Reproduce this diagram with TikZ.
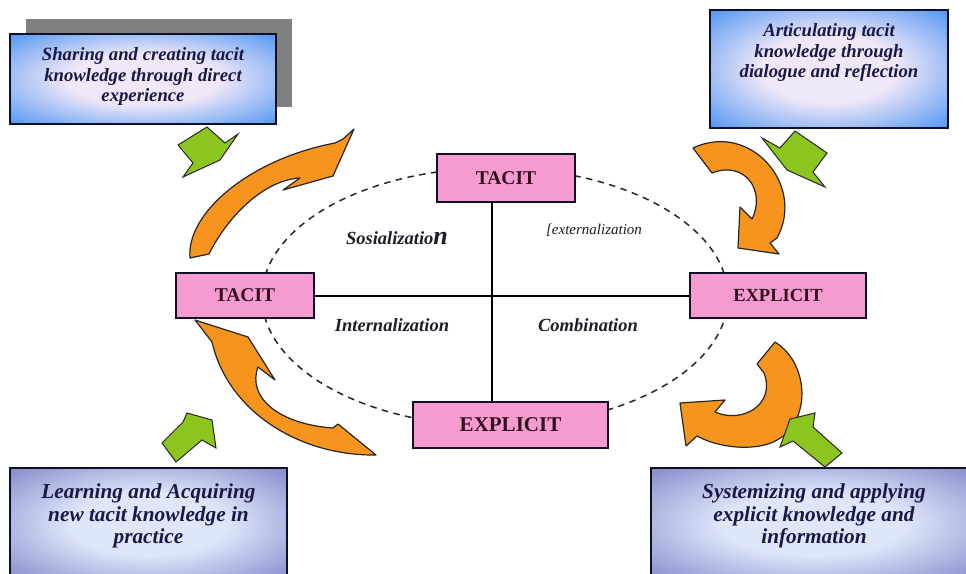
\documentclass[tikz,border=0pt]{standalone}
\usepackage{fontspec}
\setmainfont{Liberation Serif}
\definecolor{bluee}{RGB}{78,148,242}
\definecolor{bluec}{RGB}{240,232,248}
\definecolor{perie}{RGB}{122,128,198}
\definecolor{peric}{RGB}{222,230,250}
\definecolor{navy}{RGB}{25,25,70}
\definecolor{boxline}{RGB}{15,15,40}
\definecolor{pinkf}{RGB}{245,155,208}
\definecolor{maroon}{RGB}{50,15,30}
\definecolor{labelc}{RGB}{30,30,40}
\definecolor{orangef}{RGB}{247,148,30}
\definecolor{greenf}{RGB}{140,196,32}
\definecolor{shadowgray}{RGB}{128,128,128}
\pgfdeclareradialshading{blueglow}{\pgfpoint{0bp}{0bp}}{color(0bp)=(bluec); color(14bp)=(bluec); color(36bp)=(bluee); color(50bp)=(bluee)}
\pgfdeclareradialshading{periglow}{\pgfpoint{0bp}{0bp}}{color(0bp)=(peric); color(14bp)=(peric); color(38bp)=(perie); color(50bp)=(perie)}
\tikzset{
  infobox/.style={draw=boxline, line width=2pt, rectangle, inner sep=0pt},
  topbox/.style={infobox, shading=blueglow},
  botbox/.style={infobox, shading=periglow},
  infotext/.style={text=navy, align=center, inner sep=0pt, font=\fontsize{18.7}{20.5}\selectfont\bfseries\itshape},
  bigtext/.style={text=navy, align=center, inner sep=0pt, font=\fontsize{21.3}{22.8}\selectfont\bfseries\itshape},
  pinkbox/.style={draw=boxline, line width=2pt, fill=pinkf, text=maroon, inner sep=0pt},
  quadlabel/.style={text=labelc, inner sep=0pt, font=\fontsize{18.5}{20}\selectfont\bfseries\itshape},
  orangearr/.style={fill=orangef, draw=black!85, line width=1.2pt, line join=round},
  greenarr/.style={fill=greenf, draw=black!85, line width=1pt, line join=miter},
  link/.style={draw=black, line width=2pt},
  cycleline/.style={draw=black!85, line width=1.5pt, dash pattern=on 6.5pt off 5.5pt}
}
\begin{document}
\begin{tikzpicture}[x=1pt,y=-1pt]
\useasboundingbox (0,0) rectangle (966,573);
\clip (0,0) rectangle (966,573);
\fill[white] (0,0) rectangle (966,573);

% dashed cycle
\draw[cycleline] (495,297) ellipse [x radius=233pt, y radius=129pt];

% info boxes
\node[fill=shadowgray, minimum width=266pt, minimum height=88pt, inner sep=0pt] (tlshadow) at (159,63) {};
\node[topbox, minimum width=266pt, minimum height=90pt] (tl) at (143,79) {};
\node[infotext] (tltext) at (143,77) {Sharing and creating tacit\\knowledge through direct\\experience};

\node[topbox, minimum width=238pt, minimum height=118pt] (tr) at (829,69) {};
\node[infotext] (trtext) at (829,53) {Articulating tacit\\knowledge through\\dialogue and reflection};

\node[botbox, minimum width=277pt, minimum height=112pt] (bl) at (148.5,524) {};
\node[bigtext] (bltext) at (148.5,516) {Learning and Acquiring\\new tacit knowledge in\\practice};

\node[botbox, minimum width=324pt, minimum height=112pt] (br) at (813,524) {};
\node[bigtext] (brtext) at (814,516) {Systemizing and applying\\explicit knowledge and\\information};

% pink boxes
\node[pinkbox, minimum width=138pt, minimum height=48pt, font=\fontsize{19.5}{20}\selectfont\bfseries] (topT) at (506,178) {TACIT};
\node[pinkbox, minimum width=138pt, minimum height=45pt, font=\fontsize{19.5}{20}\selectfont\bfseries] (leftT) at (245,295.5) {TACIT};
\node[pinkbox, minimum width=176pt, minimum height=45pt, font=\fontsize{18.5}{20}\selectfont\bfseries] (rightE) at (778,295.5) {EXPLICIT};
\node[pinkbox, minimum width=195pt, minimum height=46pt, font=\fontsize{21}{22}\selectfont\bfseries] (botE) at (510.5,425) {EXPLICIT};

% axes
\coordinate (cross) at (492,296);
\draw[link] (leftT.east) -- (rightE.west);
\draw[link] (cross |- topT.south) -- (cross |- botE.north);

% quadrant labels
\node[quadlabel] (soc) at (397,238) {Sosializatio{\fontsize{26}{26}\selectfont n}};
\node[quadlabel, font=\fontsize{15}{16}\selectfont\itshape] (ext) at (594,230) {[externalization};
\node[quadlabel] (int) at (392,325) {Internalization};
\node[quadlabel] (com) at (588,325) {Combination};

% orange curved arrows
\draw[orangearr] (190,258) .. controls (186,213) and (250,159) .. (335,143) -- (343,139) -- (354,129) -- (333,176) -- (283,190) -- (300,178) .. controls (264,180) and (228,216) .. (209,254) -- cycle;
\draw[orangearr] (693,148) .. controls (750,121) and (806,185) .. (777,238) -- (770,243) -- (779,254) -- (738,248) -- (740,207) -- (752,219) .. controls (766,191) and (745,160) .. (712,173) -- cycle;
\draw[orangearr] (775,342) .. controls (812,365) and (812,430) .. (768,444) .. controls (745,451) and (715,446) .. (697,436) -- (686,446) -- (680,403) -- (725,400) -- (715,412) .. controls (742,424) and (776,405) .. (764,373) -- (757,364) -- cycle;
\draw[orangearr] (195,320) -- (248,337) -- (275,380) -- (258,367) .. controls (247,397) and (278,424) .. (333,428) -- (338,424) -- (376,455) .. controls (300,456) and (228,412) .. (212,342) -- cycle;

% green block arrows
\draw[greenarr] (207,127) -- (225,143) -- (238,134) -- (220,160) -- (183,177) -- (193,163) -- (178,145) -- cycle;
\draw[greenarr] (795,131) -- (827,153) -- (813,172) -- (825,187) -- (787,170) -- (762,138) -- (780,148) -- cycle;
\draw[greenarr] (162,443) -- (176,462) -- (202,440) -- (216,448) -- (212,420) -- (187,413) -- (183,422) -- cycle;
\draw[greenarr] (842,453) -- (813,427) -- (815,413) -- (790,419) -- (780,447) -- (793,441) -- (825,467) -- cycle;
\end{tikzpicture}
\end{document}
